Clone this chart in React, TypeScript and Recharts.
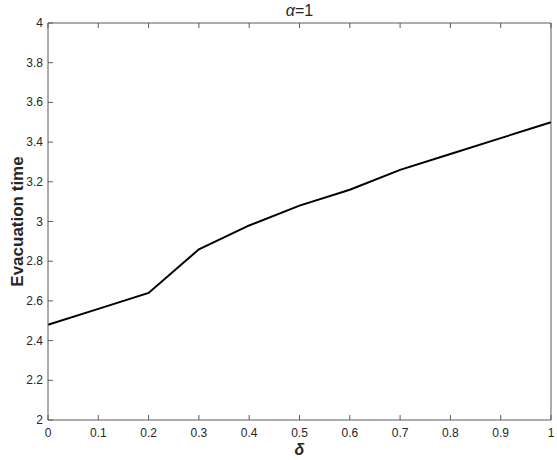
import { Line, LineChart, XAxis, YAxis } from 'recharts'

const deltaValues = [0, 0.1, 0.2, 0.3, 0.4, 0.5, 0.6, 0.7, 0.8, 0.9, 1]
const evacuationTimes = [2.48, 2.56, 2.64, 2.86, 2.98, 3.08, 3.16, 3.26, 3.34, 3.42, 3.5]
const xTicks = [0, 0.1, 0.2, 0.3, 0.4, 0.5, 0.6, 0.7, 0.8, 0.9, 1]
const yTicks = [2, 2.2, 2.4, 2.6, 2.8, 3, 3.2, 3.4, 3.6, 3.8, 4]

const chartData = deltaValues.map((delta, i) => ({ delta, time: evacuationTimes[i] }))

const axisColor = '#5a5a5a'
const textColor = '#262626'
const font = '"Liberation Sans", Arial, Helvetica, sans-serif'
const tickLen = 5

function BottomTick({ x, y, payload }: any) {
  return (
    <g>
      <line x1={x} y1={y} x2={x} y2={y - tickLen} stroke={axisColor} />
      <text x={x} y={y + 17} textAnchor="middle" fontSize={12} fill={textColor} fontFamily={font}>
        {payload.value}
      </text>
    </g>
  )
}

function LeftTick({ x, y, payload }: any) {
  return (
    <g>
      <line x1={x} y1={y} x2={x + tickLen} y2={y} stroke={axisColor} />
      <text x={x - 5} y={y + 4} textAnchor="end" fontSize={12} fill={textColor} fontFamily={font}>
        {payload.value}
      </text>
    </g>
  )
}

function TopTick({ x, y }: any) {
  return <line x1={x} y1={y} x2={x} y2={y + tickLen} stroke={axisColor} />
}

function RightTick({ x, y }: any) {
  return <line x1={x} y1={y} x2={x - tickLen} y2={y} stroke={axisColor} />
}

function YLabel({ viewBox }: any) {
  const cy = viewBox.y + viewBox.height / 2
  return (
    <text
      x={17}
      y={cy}
      transform={`rotate(-90 17 ${cy})`}
      textAnchor="middle"
      dominantBaseline="central"
      fontSize={17}
      fontWeight="bold"
      fill={textColor}
      fontFamily={font}
    >
      Evacuation time
    </text>
  )
}

function XLabel({ viewBox }: any) {
  const cx = viewBox.x + viewBox.width / 2
  return (
    <text
      x={cx}
      y={455}
      textAnchor="middle"
      fontSize={16}
      fontWeight="bold"
      fontStyle="italic"
      fill={textColor}
      fontFamily={font}
    >
      δ
    </text>
  )
}

export default function App() {
  return (
    <div style={{ position: 'relative', width: 557, height: 460, background: '#fff' }}>
      <style>{`body{margin:0}`}</style>
      <div
        style={{
          position: 'absolute',
          left: 48,
          width: 503,
          top: 2,
          textAlign: 'center',
          fontFamily: font,
          fontSize: 16,
          color: textColor,
        }}
      >
        <span style={{ fontStyle: 'italic' }}>α</span>=1
      </div>
      <LineChart
        width={557}
        height={460}
        data={chartData}
        margin={{ top: 22, right: 5, bottom: 0, left: 0 }}
      >
        <XAxis
          xAxisId="bottom"
          dataKey="delta"
          type="number"
          domain={[0, 1]}
          ticks={xTicks}
          height={40}
          tickSize={0}
          tickMargin={0}
          tick={<BottomTick />}
          tickLine={false}
          axisLine={{ stroke: axisColor }}
          interval={0}
          label={<XLabel />}
        />
        <XAxis
          xAxisId="top"
          orientation="top"
          dataKey="delta"
          type="number"
          domain={[0, 1]}
          ticks={xTicks}
          height={1}
          tickSize={0}
          tickMargin={0}
          tick={<TopTick />}
          tickLine={false}
          axisLine={{ stroke: axisColor }}
          interval={0}
        />
        <YAxis
          yAxisId="left"
          type="number"
          domain={[2, 4]}
          ticks={yTicks}
          width={48}
          tickSize={0}
          tickMargin={0}
          tick={<LeftTick />}
          tickLine={false}
          axisLine={{ stroke: axisColor }}
          interval={0}
          label={<YLabel />}
        />
        <YAxis
          yAxisId="right"
          orientation="right"
          type="number"
          domain={[2, 4]}
          ticks={yTicks}
          width={1}
          tickSize={0}
          tickMargin={0}
          tick={<RightTick />}
          tickLine={false}
          axisLine={{ stroke: axisColor }}
          interval={0}
        />
        <Line
          xAxisId="bottom"
          yAxisId="left"
          type="linear"
          dataKey="time"
          stroke="#000"
          strokeWidth={2}
          dot={false}
          isAnimationActive={false}
        />
      </LineChart>
    </div>
  )
}
